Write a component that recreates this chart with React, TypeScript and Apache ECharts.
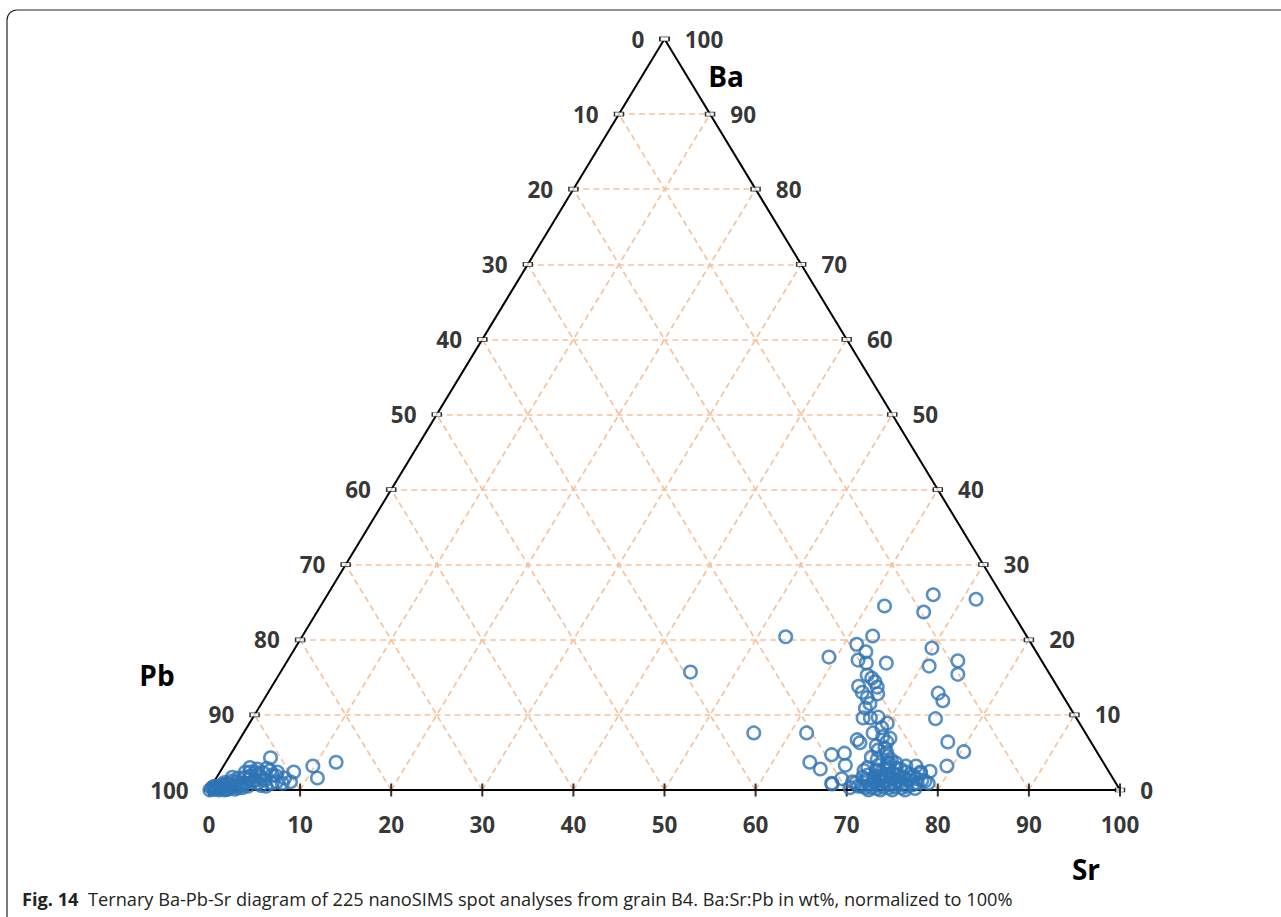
import React, { useEffect, useRef } from "react";
import * as echarts from "echarts";

// ---- Data (ternary compositions, wt%: [Ba, Sr]; Pb = 100 - Ba - Sr) ----
const tickValues = [0, 10, 20, 30, 40, 50, 60, 70, 80, 90, 100];
const gridValues = [10, 20, 30, 40, 50, 60, 70, 80, 90];

// Pb-rich spots (bottom-left cluster)
const pbRichSpots: [number, number][] = [
  [3.7, 12.1], [3.2, 9.8], [1.6, 11.1], [2.4, 8.1], [1.1, 8.4], [1.6, 7.5],
  [4.3, 4.6], [2.9, 4.9], [2.4, 6.3], [2.3, 4.8], [1.1, 6.9], [1.3, 5.5],
  [2.4, 2.8], [2.4, 3.3], [2.4, 3.9], [0.9, 3.5], [1.1, 4.2], [1.1, 2.5],
  [0.7, 3.1], [0.9, 1.6], [0.7, 1.1], [0.4, 0.5], [0.0, 0.1], [0.1, 0.4],
  [0.4, 0.8], [0.4, 1.6], [0.4, 2.3], [0.9, 4.9], [0.9, 6.5], [0.9, 7.6],
  [1.7, 1.7], [1.6, 2.4], [1.7, 3.1], [1.7, 4.7], [2.0, 5.9], [0.3, 0.2],
  [0.1, 0.7], [0.3, 1.1], [0.5, 0.3], [0.0, 1.1], [0.0, 1.7], [0.1, 2.0],
  [0.1, 2.8], [0.3, 3.5], [0.5, 4.0], [0.2, 0.6], [0.6, 1.4], [0.8, 2.0],
  [0.2, 1.3], [0.5, 2.6], [1.2, 1.9], [0.9, 2.9], [0.3, 3.0], [1.4, 3.7],
  [0.6, 3.3], [1.0, 1.2], [0.1, 1.9], [1.3, 4.4], [1.9, 3.6], [2.1, 4.3],
  [1.5, 5.2], [0.6, 5.4], [2.6, 5.4], [0.5, 6.0], [1.9, 6.4], [3.0, 3.0],
  [2.8, 3.9],
];

// Sr-rich spots: scattered points
const srRichScattered: [number, number][] = [
  [15.7, 45.0], [20.4, 53.1], [7.6, 56.0], [7.6, 61.8], [3.7, 64.1], [2.8, 65.7],
  [0.8, 68.0], [17.7, 59.2], [19.4, 61.4], [20.5, 62.6], [24.5, 61.9], [23.7, 66.6],
  [26.0, 66.5], [25.4, 71.5], [18.9, 69.9], [17.2, 73.6], [16.5, 70.8], [15.4, 74.5],
  [12.9, 73.6], [11.9, 74.6], [9.5, 75.0], [6.4, 77.9], [5.1, 80.3], [3.2, 79.4],
  [2.5, 77.9],
];

// Sr-rich spots: vertical column
const srRichColumn: [number, number][] = [
  [18.4, 62.9], [17.3, 62.6], [16.9, 63.7], [16.9, 65.9], [15.3, 64.6], [14.9, 65.3],
  [13.8, 64.4], [14.4, 65.9], [13.7, 66.5], [13.0, 65.2], [12.8, 67.0], [12.3, 66.1],
  [11.5, 66.8], [10.9, 66.6], [9.6, 67.0], [9.6, 67.8], [9.7, 68.6], [8.9, 70.0],
  [8.3, 69.7], [7.6, 69.1], [7.1, 70.4], [6.9, 71.3], [6.7, 67.8], [6.3, 68.3],
  [6.4, 71.2], [4.7, 66.0], [4.9, 67.3], [3.3, 68.2], [0.9, 67.9], [1.5, 68.7],
  [1.1, 70.1], [5.3, 70.8], [5.6, 71.4], [4.1, 71.3], [3.7, 72.6], [3.6, 72.9],
  [2.4, 76.9], [1.3, 77.6], [0.9, 78.5], [5.0, 71.9], [4.5, 72.2], [4.4, 70.5],
  [5.9, 70.3], [4.0, 72.9],
];

// Sr-rich spots: dense base cluster
const srRichBase: [number, number][] = [
  [0.5, 71.4], [1.3, 71.5], [2.0, 71.3], [0.8, 72.2], [0.3, 72.6], [1.6, 72.2],
  [2.7, 71.9], [0.7, 73.1], [1.5, 72.9], [2.3, 72.6], [0.4, 73.8], [1.1, 73.5],
  [1.9, 73.4], [2.7, 73.2], [0.7, 74.3], [1.5, 74.1], [2.3, 73.9], [0.4, 75.1],
  [1.2, 74.8], [2.0, 74.6], [2.8, 74.5], [0.8, 75.7], [1.6, 75.5], [0.5, 76.3],
  [1.3, 76.1], [2.1, 75.9], [0.7, 76.9], [1.5, 76.9], [1.7, 70.9], [0.5, 71.0],
  [0.0, 72.4], [0.0, 73.7], [0.0, 75.0], [0.0, 76.4], [3.0, 70.8], [3.3, 71.8],
  [2.5, 72.0], [3.1, 72.9], [2.9, 74.0], [3.2, 74.9], [0.3, 71.9], [1.0, 72.6],
  [1.9, 72.7], [0.2, 73.2], [1.2, 73.0], [2.0, 73.0], [0.9, 74.8], [1.7, 75.0],
  [0.3, 74.5], [2.4, 75.3], [1.0, 75.3], [0.3, 75.9], [1.9, 76.4], [0.9, 77.3],
  [0.2, 77.4], [1.2, 78.0], [2.2, 77.0], [3.2, 76.0], [2.6, 70.6], [1.0, 70.5],
  [0.3, 70.2], [3.6, 73.6],
];

// ---- ternary -> cartesian (x along Sr axis, y = Ba height) ----
const toXY = (ba: number, sr: number): [number, number] => [sr + ba / 2, ba];

const LABEL_FONT = "Open Sans";
const GRID_COLOR = "#F6C29C";

export default function App() {
  const ref = useRef<HTMLDivElement>(null);

  useEffect(() => {
    if (!ref.current) return;
    const chart = echarts.init(ref.current, undefined, { renderer: "svg" });

    const gridLines: any[] = [];
    gridValues.forEach((v) => {
      gridLines.push({ coords: [toXY(v, 0), toXY(v, 100 - v)] });
      gridLines.push({ coords: [toXY(0, v), toXY(100 - v, v)] });
      gridLines.push({ coords: [toXY(0, 100 - v), toXY(100 - v, 0)] });
    });

    const allSpots = [...pbRichSpots, ...srRichScattered, ...srRichColumn, ...srRichBase];
    const spotData = allSpots.map(([ba, sr]) => {
      const [x, y] = toXY(ba, sr);
      return [x, y, ba, sr, +(100 - ba - sr).toFixed(1)];
    });

    const labelBase = {
      show: true,
      fontFamily: LABEL_FONT,
      fontWeight: 700,
      fontSize: 22.5,
      color: "#000",
      formatter: (p: any) => String(p.value[2]),
    };

    const sideTickStyle = {
      color: "#fff",
      borderColor: "#000",
      borderWidth: 1,
    };

    const titleStyle = {
      fontFamily: LABEL_FONT,
      fontWeight: 700,
      fontSize: 28,
      fill: "#000",
      align: "center",
      verticalAlign: "middle",
    };

    chart.setOption({
      animation: false,
      backgroundColor: "#fff",
      grid: { left: 209, right: 161, top: 39, bottom: 127 },
      xAxis: { type: "value", min: 0, max: 100, show: false },
      yAxis: { type: "value", min: 0, max: 100, show: false },
      series: [
        {
          type: "lines",
          coordinateSystem: "cartesian2d",
          silent: true,
          z: 1,
          lineStyle: { color: GRID_COLOR, width: 1.7, type: [6, 4], opacity: 1 },
          data: gridLines,
        },
        {
          type: "line",
          silent: true,
          z: 2,
          symbol: "none",
          lineStyle: { color: "#000", width: 2 },
          data: [toXY(0, 0), toXY(0, 100), toXY(100, 0), toXY(0, 0)],
        },
        {
          type: "scatter",
          silent: true,
          z: 3,
          symbol: "rect",
          symbolSize: [9, 4],
          itemStyle: sideTickStyle,
          data: tickValues.map((v) => [...toXY(100 - v, 0), v]),
          label: { ...labelBase, position: "left", distance: 15 },
        },
        {
          type: "scatter",
          silent: true,
          z: 3,
          symbol: "rect",
          symbolSize: [9, 4],
          itemStyle: sideTickStyle,
          data: tickValues.map((v) => [...toXY(v, 100 - v), v]),
          label: { ...labelBase, position: "right", distance: 15 },
        },
        {
          type: "scatter",
          silent: true,
          z: 3,
          symbol: "rect",
          symbolSize: [2, 13],
          itemStyle: { color: "#000" },
          data: tickValues.map((v) => [...toXY(0, v), v]),
          label: { ...labelBase, position: "bottom", distance: 16 },
        },
        {
          name: "Spots",
          type: "scatter",
          z: 5,
          symbol: "circle",
          symbolSize: 12.5,
          itemStyle: {
            color: "rgba(255,255,255,0)",
            borderColor: "#2E74B5",
            borderWidth: 2.5,
          },
          data: spotData,
        },
      ],
      graphic: [
        {
          type: "rect",
          shape: { x: 7, y: 10, width: 1400, height: 1000, r: 10 },
          style: { fill: "none", stroke: "#222", lineWidth: 1.2 },
          silent: true,
        },
        { type: "text", x: 726, y: 76, style: { text: "Ba", ...titleStyle } },
        { type: "text", x: 157, y: 675, style: { text: "Pb", ...titleStyle } },
        { type: "text", x: 1086, y: 869, style: { text: "Sr", ...titleStyle } },
        {
          type: "text",
          x: 22,
          y: 899,
          style: {
            text:
              "{b|Fig. 14}  Ternary Ba-Pb-Sr diagram of 225 nanoSIMS spot analyses from grain B4. Ba:Sr:Pb in wt%, normalized to 100%",
            fontFamily: "Open Sans",
            fontSize: 18.2,
            fill: "#222",
            verticalAlign: "middle",
            rich: {
              b: { fontFamily: "Open Sans", fontWeight: 700, fontSize: 18.2, fill: "#222" },
            },
          },
        },
      ],
    });

    return () => chart.dispose();
  }, []);

  return (
    <div
      ref={ref}
      style={{ position: "absolute", left: 0, top: 0, width: 1281, height: 917, background: "#fff" }}
    />
  );
}
